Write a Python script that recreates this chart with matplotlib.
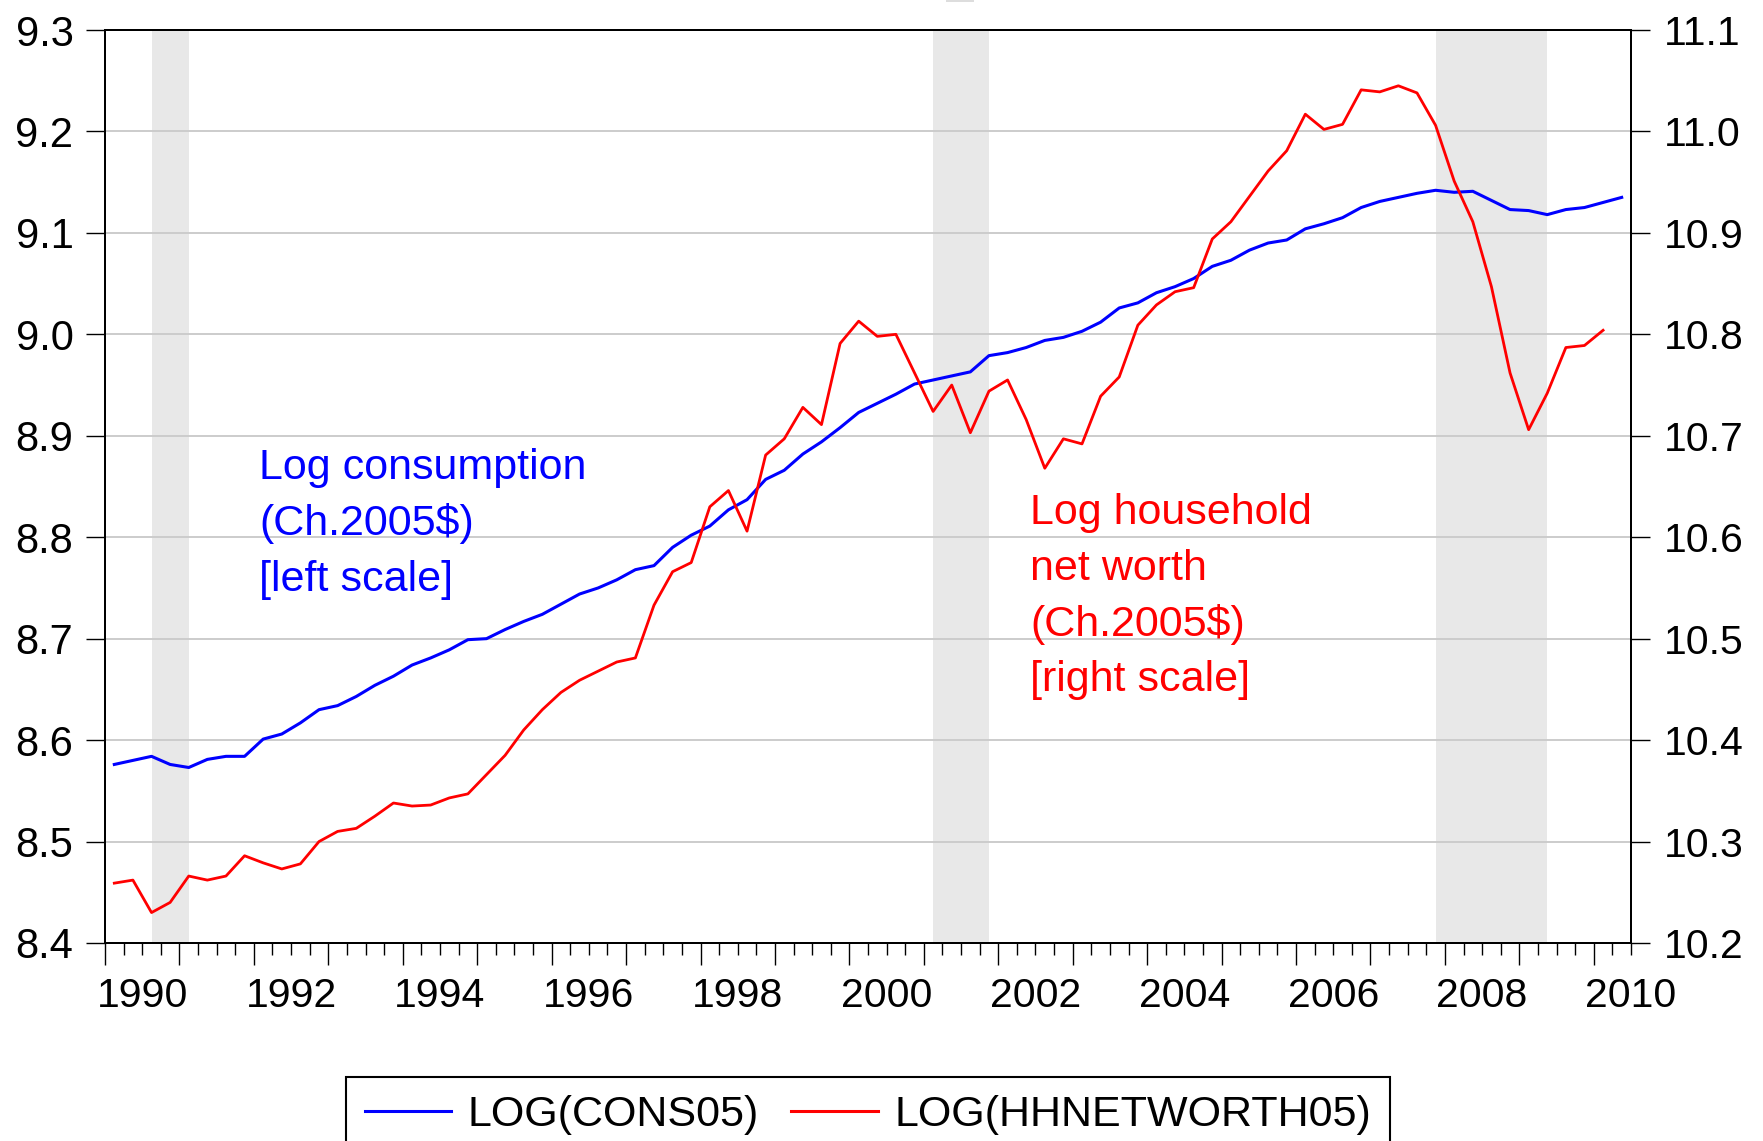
#######################################
# 1. modules
#######################################
import matplotlib
matplotlib.use("Agg")
import matplotlib.pyplot as plt
from matplotlib.patches import Rectangle
from matplotlib.ticker import FormatStrFormatter, MultipleLocator
import pandas as pd

#######################################
# 2. settings / data
#######################################
OUTPUT = "out.png"
plt.rcParams["font.family"] = ["Liberation Sans", "DejaVu Sans"]

START = "1990Q1"

# log real consumption, quarterly from 1990Q1 (left scale)
LOG_CONS05 = [
    8.576, 8.580, 8.584, 8.576,
    8.573, 8.581, 8.584, 8.584,
    8.601, 8.606, 8.617, 8.630,
    8.634, 8.643, 8.654, 8.663,
    8.674, 8.681, 8.689, 8.699,
    8.700, 8.709, 8.717, 8.724,
    8.734, 8.744, 8.750, 8.758,
    8.768, 8.772, 8.790, 8.802,
    8.811, 8.827, 8.837, 8.857,
    8.866, 8.882, 8.894, 8.908,
    8.923, 8.932, 8.941, 8.951,
    8.955, 8.959, 8.963, 8.979,
    8.982, 8.987, 8.994, 8.997,
    9.003, 9.012, 9.026, 9.031,
    9.041, 9.047, 9.055, 9.067,
    9.073, 9.083, 9.090, 9.093,
    9.104, 9.109, 9.115, 9.125,
    9.131, 9.135, 9.139, 9.142,
    9.140, 9.141, 9.132, 9.123,
    9.122, 9.118, 9.123, 9.125,
    9.130, 9.135,
]

# log real household net worth, quarterly from 1990Q1 (right scale)
LOG_HHNETWORTH05 = [
    10.259, 10.262, 10.230, 10.240,
    10.266, 10.262, 10.266, 10.286,
    10.279, 10.273, 10.278, 10.300,
    10.310, 10.313, 10.325, 10.338,
    10.335, 10.336, 10.343, 10.347,
    10.366, 10.385, 10.410, 10.430,
    10.447, 10.459, 10.468, 10.477,
    10.481, 10.533, 10.566, 10.575,
    10.630, 10.646, 10.606, 10.681,
    10.697, 10.728, 10.711, 10.791,
    10.813, 10.798, 10.800, 10.762,
    10.724, 10.750, 10.703, 10.744,
    10.755, 10.716, 10.668, 10.697,
    10.692, 10.739, 10.758, 10.809,
    10.829, 10.842, 10.846, 10.894,
    10.911, 10.936, 10.961, 10.981,
    11.017, 11.002, 11.007, 11.041,
    11.039, 11.045, 11.038, 11.006,
    10.951, 10.911, 10.847, 10.762,
    10.706, 10.742, 10.787, 10.789,
    10.804,
]

RECESSIONS = [("1990Q3", "1991Q1"), ("2001Q1", "2001Q4"), ("2007Q4", "2009Q2")]

LEFT_TICKS = [8.4, 8.5, 8.6, 8.7, 8.8, 8.9, 9.0, 9.1, 9.2, 9.3]
RIGHT_TICKS = [10.2, 10.3, 10.4, 10.5, 10.6, 10.7, 10.8, 10.9, 11.0, 11.1]
YEAR_LABELS = [1990, 1992, 1994, 1996, 1998, 2000, 2002, 2004, 2006, 2008, 2010]

LEFT_NOTE = ["Log consumption", "(Ch.2005$)", "[left scale]"]
RIGHT_NOTE = ["Log household", "net worth", "(Ch.2005$)", "[right scale]"]
LEGEND = ["LOG(CONS05)", "LOG(HHNETWORTH05)"]

BLUE = "#0000ff"
RED = "#ff0000"
SHADE = "#e8e8e8"
GRID = "#cccccc"


#######################################
# 3. helpers
#######################################
def quarter_x(periods):
    # EViews puts each quarterly point in the middle of its quarter
    return periods.year + (periods.quarter - 0.5) / 4


def period_x(label):
    p = pd.Period(label, freq="Q")
    return p.year + (p.quarter - 0.5) / 4


#######################################
# 4. main
#######################################
def main():
    cons_idx = pd.period_range(START, periods=len(LOG_CONS05), freq="Q")
    nw_idx = pd.period_range(START, periods=len(LOG_HHNETWORTH05), freq="Q")
    cons = pd.Series(LOG_CONS05, index=quarter_x(cons_idx))
    nw = pd.Series(LOG_HHNETWORTH05, index=quarter_x(nw_idx))

    fig = plt.figure(figsize=(17.63, 11.41), dpi=100)
    ax = fig.add_axes([105 / 1763, 1 - 943 / 1141, 1526 / 1763, 913 / 1141])
    ax2 = ax.twinx()

    for start, end in RECESSIONS:
        ax.axvspan(period_x(start), period_x(end), color=SHADE, lw=0, zorder=0)

    ax.set_axisbelow(True)
    ax.yaxis.grid(True, color=GRID, linewidth=1.4)

    line_c, = ax.plot(cons.index, cons.values, color=BLUE, lw=2.2, zorder=3)
    line_n, = ax2.plot(nw.index, nw.values, color=RED, lw=2.0, zorder=3)

    ax.set_xlim(1990, 2010.5)
    ax.set_ylim(LEFT_TICKS[0], LEFT_TICKS[-1])
    ax2.set_ylim(RIGHT_TICKS[0], RIGHT_TICKS[-1])
    ax.set_yticks(LEFT_TICKS)
    ax2.set_yticks(RIGHT_TICKS)
    ax.yaxis.set_major_formatter(FormatStrFormatter("%.1f"))
    ax2.yaxis.set_major_formatter(FormatStrFormatter("%.1f"))

    ax.xaxis.set_major_locator(MultipleLocator(1))
    ax.xaxis.set_minor_locator(MultipleLocator(0.25))
    ax.tick_params(axis="x", which="major", length=15.8, width=1.0, labelbottom=False)
    ax.tick_params(axis="x", which="minor", length=8.6, width=1.0)
    ax.tick_params(axis="y", length=13.7, width=1.0, pad=9, labelsize=30)
    ax2.tick_params(axis="y", length=13.7, width=1.0, pad=10, labelsize=29.5)

    for spine in list(ax.spines.values()) + list(ax2.spines.values()):
        spine.set_linewidth(1.4)

    # year labels sit in the middle of each year
    for yr in YEAR_LABELS:
        ax.text(yr + 0.5, -0.0701, str(yr), transform=ax.get_xaxis_transform(),
                ha="center", va="baseline", fontsize=29.5)

    # notes on the plot
    left_y = [8.857, 8.802, 8.747]
    for txt, y in zip(LEFT_NOTE, left_y):
        ax.text(1992.07, y, txt, color=BLUE, fontsize=31, va="baseline", ha="left")
    right_y = [10.613, 10.558, 10.503, 10.448]
    for txt, y in zip(RIGHT_NOTE, right_y):
        ax2.text(2002.43, y, txt, color=RED, fontsize=31, va="baseline", ha="left")

    leg = fig.legend(
        handles=[line_c, line_n], labels=LEGEND, loc="upper center",
        bbox_to_anchor=(868 / 1763, 1 - 1077 / 1141), ncol=2, frameon=True,
        fancybox=False, edgecolor="black", framealpha=1, fontsize=31,
        handlelength=2.0, handletextpad=0.4, columnspacing=0.75,
        borderpad=0.42, borderaxespad=0,
    )
    leg.get_frame().set_linewidth(1.5)
    for h in leg.legend_handles:
        h.set_linewidth(2.2)

    # small grey leftover at the top edge
    fig.add_artist(Rectangle((946 / 1763, 1 - 2 / 1141), 28 / 1763, 2 / 1141,
                             transform=fig.transFigure, color="#dddddd", lw=0))

    fig.savefig(OUTPUT, dpi=100)


#######################################
# 5. run
#######################################
if __name__ == "__main__":
    main()
